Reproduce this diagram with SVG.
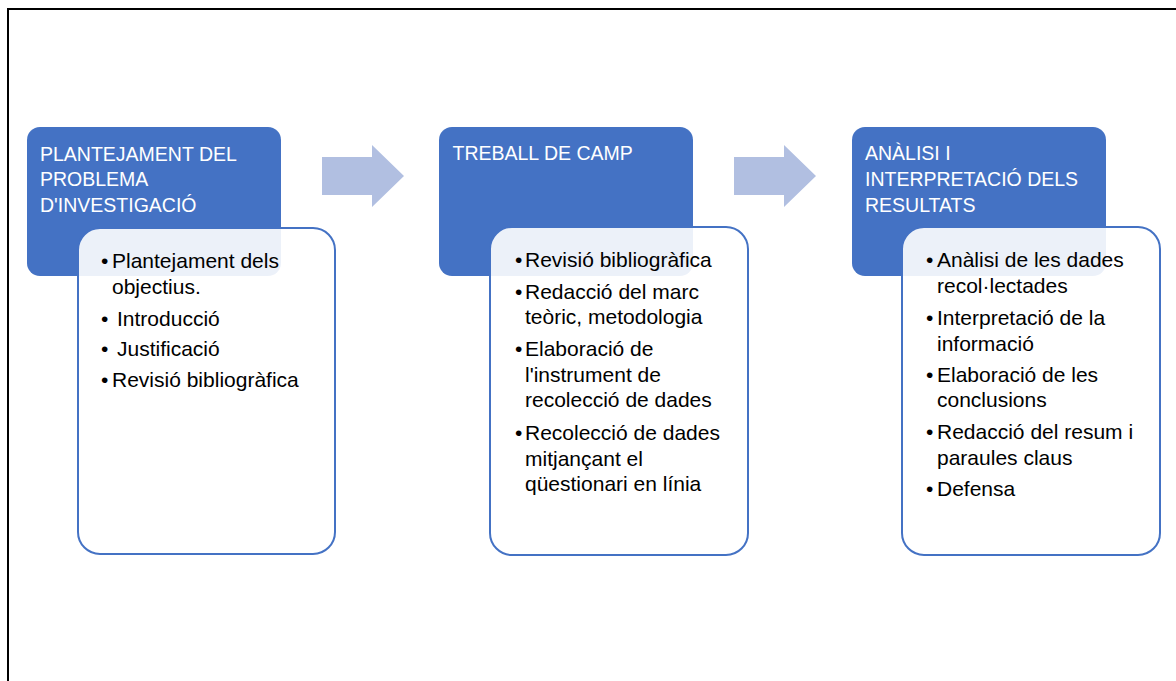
<svg xmlns="http://www.w3.org/2000/svg" width="1176" height="681" viewBox="0 0 1176 681">
<style>
.hdr{fill:#4472C4}
.card{fill:#FFFFFF;fill-opacity:0.9;stroke:#4472C4;stroke-width:2}
.arrow{fill:#B1BFE1}
.title{font-family:"Liberation Sans",Arial,sans-serif;font-size:19.5px;fill:#FFFFFF}
.body{font-family:"Liberation Sans",Arial,sans-serif;font-size:21px;fill:#000000}
</style>
<rect x="0" y="0" width="1176" height="681" fill="#FFFFFF"/>
<rect x="8" y="9" width="1190" height="700" fill="none" stroke="#000000" stroke-width="2"/>
<g id="connectors">
<polygon class="arrow" points="322,157 372,157 372,145 404,176 372,207 372,195 322,195"/>
<polygon class="arrow" points="734,157 784,157 784,145 816,176 784,207 784,195 734,195"/>
</g>
<g id="node1">
<rect class="hdr" x="27" y="127" width="254" height="149" rx="13"/>
<text class="title"><tspan x="40" y="161">PLANTEJAMENT DEL</tspan><tspan x="40" y="186">PROBLEMA</tspan><tspan x="40" y="211.5">D'INVESTIGACIÓ</tspan></text>
<rect class="card" x="78" y="228" width="257" height="326" rx="22"/>
<text class="body"><tspan x="101" y="268">•</tspan><tspan x="112" y="268">Plantejament dels</tspan><tspan x="112" y="294">objectius.</tspan></text>
<text class="body"><tspan x="101" y="326">•</tspan><tspan x="117" y="326">Introducció</tspan></text>
<text class="body"><tspan x="101" y="356">•</tspan><tspan x="117" y="356">Justificació</tspan></text>
<text class="body"><tspan x="101" y="387">•</tspan><tspan x="112" y="387">Revisió bibliogràfica</tspan></text>
</g>
<g id="node2">
<rect class="hdr" x="439" y="127" width="254" height="149" rx="13"/>
<text class="title" x="452.5" y="160">TREBALL DE CAMP</text>
<rect class="card" x="490" y="227" width="258" height="328" rx="22"/>
<text class="body"><tspan x="515" y="267">•</tspan><tspan x="525" y="267">Revisió bibliogràfica</tspan></text>
<text class="body"><tspan x="515" y="299">•</tspan><tspan x="525" y="299">Redacció del marc</tspan><tspan x="525" y="324">teòric, metodologia</tspan></text>
<text class="body"><tspan x="515" y="356">•</tspan><tspan x="525" y="356">Elaboració de</tspan><tspan x="525" y="381.5">l'instrument de</tspan><tspan x="525" y="407">recolecció de dades</tspan></text>
<text class="body"><tspan x="515" y="440">•</tspan><tspan x="525" y="440">Recolecció de dades</tspan><tspan x="525" y="465.5">mitjançant el</tspan><tspan x="525" y="491">qüestionari en línia</tspan></text>
</g>
<g id="node3">
<rect class="hdr" x="852" y="127" width="254" height="149" rx="13"/>
<text class="title"><tspan x="865" y="160">ANÀLISI I</tspan><tspan x="865" y="186">INTERPRETACIÓ DELS</tspan><tspan x="865" y="211.5">RESULTATS</tspan></text>
<rect class="card" x="902" y="227" width="258" height="328" rx="22"/>
<text class="body"><tspan x="926" y="267">•</tspan><tspan x="937" y="267">Anàlisi de les dades</tspan><tspan x="937" y="293">recol·lectades</tspan></text>
<text class="body"><tspan x="926" y="325">•</tspan><tspan x="937" y="325">Interpretació de la</tspan><tspan x="937" y="351">informació</tspan></text>
<text class="body"><tspan x="926" y="382">•</tspan><tspan x="937" y="382">Elaboració de les</tspan><tspan x="937" y="407">conclusions</tspan></text>
<text class="body"><tspan x="926" y="439">•</tspan><tspan x="937" y="439">Redacció del resum i</tspan><tspan x="937" y="465">paraules claus</tspan></text>
<text class="body"><tspan x="926" y="496">•</tspan><tspan x="937" y="496">Defensa</tspan></text>
</g>
</svg>
